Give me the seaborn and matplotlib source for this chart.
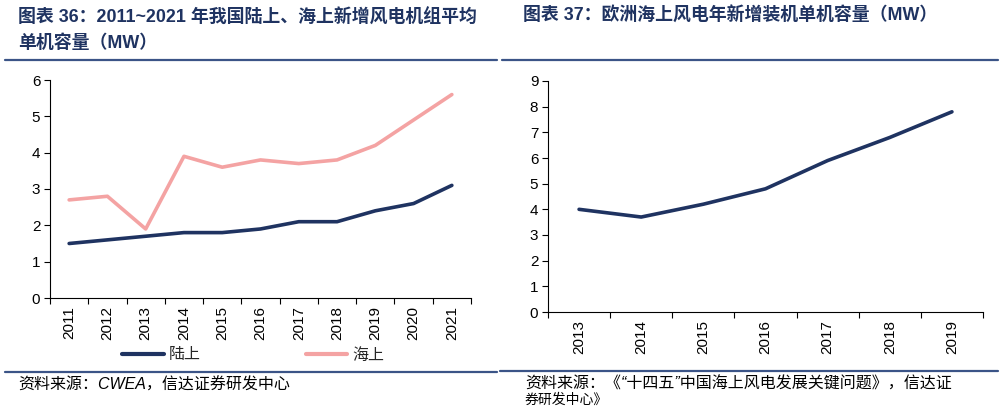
import numpy as np
import pandas as pd
import matplotlib
matplotlib.use("Agg")
import matplotlib.pyplot as plt
import seaborn as sns
from matplotlib.lines import Line2D

# chart 36 data
years_cn = ["2011", "2012", "2013", "2014", "2015", "2016", "2017", "2018", "2019", "2020", "2021"]
onshore = [1.5, 1.6, 1.7, 1.8, 1.8, 1.9, 2.1, 2.1, 2.4, 2.6, 3.1]
offshore = [2.7, 2.8, 1.9, 3.9, 3.6, 3.8, 3.7, 3.8, 4.2, 4.9, 5.6]
series_names = ["陆上", "海上"]

# chart 37 data
years_eu = ["2013", "2014", "2015", "2016", "2017", "2018", "2019"]
eu_capacity = [4.0, 3.7, 4.2, 4.8, 5.9, 6.8, 7.8]

NAVY = "#1f3361"
PINK = "#f4a3a3"
TITLE_C = "#1f3361"

sns.set_theme(style="white")
plt.rcParams["font.family"] = ["Liberation Sans", "Noto Sans CJK SC", "DejaVu Sans"]

W, H = 1002, 408
fig = plt.figure(figsize=(W / 100, H / 100), dpi=100)


def px_axes(x0, y0, x1, y1):
    return fig.add_axes([x0 / W, 1 - y1 / H, (x1 - x0) / W, (y1 - y0) / H])


def style_axis(ax, labels, ymax):
    n = len(labels)
    ax.set_xlim(-0.5, n - 0.5)
    ax.set_ylim(0, ymax)
    ax.set_xticks(np.arange(-0.5, n, 1.0))
    ax.set_xticklabels([])
    ax.set_xticks(np.arange(n), minor=True)
    ax.set_xticklabels(labels, minor=True, rotation=90, fontsize=11)
    ax.set_yticks(range(0, ymax + 1))
    ax.tick_params(axis="y", labelsize=11, length=4, width=0.8, colors="black", pad=3, left=True)
    ax.tick_params(axis="x", which="major", length=4, width=0.8, bottom=True, color="black")
    ax.tick_params(axis="x", which="minor", length=0, pad=6, labelcolor="black")
    for s in ["top", "right"]:
        ax.spines[s].set_visible(False)
    for s in ["left", "bottom"]:
        ax.spines[s].set_color("black")
        ax.spines[s].set_linewidth(0.8)
    ax.set_xlabel("")
    ax.set_ylabel("")
    ax.grid(False)


# left chart
ax1 = px_axes(50, 80, 471, 298)
df1 = pd.DataFrame({"x": list(range(len(years_cn))) * 2,
                    "val": onshore + offshore,
                    "series": [series_names[0]] * len(onshore) + [series_names[1]] * len(offshore)})
sns.lineplot(data=df1, x="x", y="val", hue="series", palette=[NAVY, PINK],
             linewidth=2.6, ax=ax1, legend=False)
style_axis(ax1, years_cn, 6)
handles = [Line2D([], [], color=NAVY, lw=3), Line2D([], [], color=PINK, lw=3)]
fig.legend(handles, series_names, loc="center left", bbox_to_anchor=(122 / W, 1 - 355 / H),
           ncol=2, frameon=False, fontsize=11.5, handlelength=2.6, handletextpad=0.3,
           columnspacing=6.6, borderaxespad=0, borderpad=0)

# right chart
ax2 = px_axes(548, 81, 983, 312)
df2 = pd.DataFrame({"x": range(len(years_eu)), "val": eu_capacity})
sns.lineplot(data=df2, x="x", y="val", color=NAVY, linewidth=2.6, ax=ax2)
style_axis(ax2, years_eu, 9)

# titles
fig.text(18 / W, 1 - 18 / H, "图表 36：2011~2021 年我国陆上、海上新增风电机组平均",
         fontsize=12.9, fontweight="bold", color=TITLE_C, va="center", ha="left")
fig.text(18 / W, 1 - 43 / H, "单机容量（MW）",
         fontsize=12.9, fontweight="bold", color=TITLE_C, va="center", ha="left")
fig.text(523 / W, 1 - 15 / H, "图表 37：欧洲海上风电年新增装机单机容量（MW）",
         fontsize=12.9, fontweight="bold", color=TITLE_C, va="center", ha="left")

# separator lines
for (xa, xb, y) in [(5, 497, 60), (502, 998, 60), (5, 497, 372), (500, 998, 371)]:
    fig.add_artist(Line2D([xa / W, xb / W], [1 - y / H, 1 - y / H], color="#3b5487", lw=1.6))

# sources
fig.text(18 / W, 1 - 385 / H, "资料来源：CWEA，信达证券研发中心",
         fontsize=11.5, style="italic", color="black", va="center", ha="left")
fig.text(525 / W, 1 - 384 / H, "资料来源：《“十四五”中国海上风电发展关键问题》，信达证",
         fontsize=11.5, style="italic", color="black", va="center", ha="left")
fig.text(525 / W, 1 - 400 / H, "券研发中心》",
         fontsize=10, style="italic", color="black", va="center", ha="left")

fig.savefig("out.png", dpi=100)
